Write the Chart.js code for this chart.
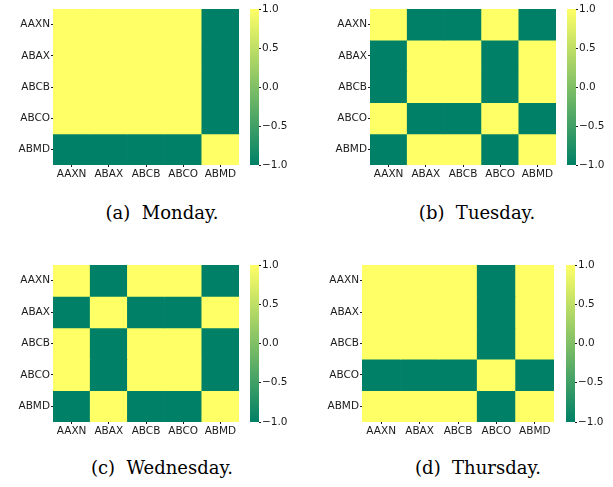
<!DOCTYPE html>
<html>
<head>
<meta charset="utf-8">
<script src="https://cdn.jsdelivr.net/npm/chart.js@4.4.1/dist/chart.umd.min.js"></script>
<style>
  body { margin: 0; background: #fff; width: 613px; height: 487px; overflow: hidden; position: relative; }
  canvas { position: absolute; }
  .cap { position: absolute; width: 240px; text-align: center; font-family: "DejaVu Serif", serif; font-size: 18px; color: #000; white-space: pre; }
</style>
</head>
<body>
<canvas id="hA" width="245" height="185" style="left:0px;top:0px"></canvas>
<canvas id="cA" width="50" height="185" style="left:245px;top:0px"></canvas>
<canvas id="hB" width="245" height="185" style="left:317px;top:0px"></canvas>
<canvas id="cB" width="50" height="185" style="left:562px;top:0px"></canvas>
<canvas id="hC" width="245" height="186" style="left:0px;top:256px"></canvas>
<canvas id="cC" width="50" height="186" style="left:245px;top:256px"></canvas>
<canvas id="hD" width="251" height="186" style="left:309px;top:256px"></canvas>
<canvas id="cD" width="50" height="186" style="left:561px;top:256px"></canvas>
<div class="cap" style="left:42px;top:202px">(a)  Monday.</div>
<div class="cap" style="left:357px;top:202px">(b)  Tuesday.</div>
<div class="cap" style="left:42px;top:457px">(c)  Wednesday.</div>
<div class="cap" style="left:358px;top:457px">(d)  Thursday.</div>
<script>
var stocks = ["AAXN", "ABAX", "ABCB", "ABCO", "ABMD"];

// correlation matrices, rows top to bottom
var monday = [
    [ 1,  1,  1,  1, -1],
    [ 1,  1,  1,  1, -1],
    [ 1,  1,  1,  1, -1],
    [ 1,  1,  1,  1, -1],
    [-1, -1, -1, -1,  1]
];
var tuesday = [
    [ 1, -1, -1,  1, -1],
    [-1,  1,  1, -1,  1],
    [-1,  1,  1, -1,  1],
    [ 1, -1, -1,  1, -1],
    [-1,  1,  1, -1,  1]
];
var wednesday = [
    [ 1, -1,  1,  1, -1],
    [-1,  1, -1, -1,  1],
    [ 1, -1,  1,  1, -1],
    [ 1, -1,  1,  1, -1],
    [-1,  1, -1, -1,  1]
];
var thursday = [
    [ 1,  1,  1, -1,  1],
    [ 1,  1,  1, -1,  1],
    [ 1,  1,  1, -1,  1],
    [-1, -1, -1,  1, -1],
    [ 1,  1,  1, -1,  1]
];
var colorbarTicks = [-1.0, -0.5, 0.0, 0.5, 1.0];

var tickFont = {family: "DejaVu Sans", size: 10.5};
var tickColor = "#1a1a1a";

// matplotlib "summer" colormap
function summer(v) {
    var t = (v + 1) / 2;
    return "rgb(" + Math.round(255 * t) + "," + Math.round(255 * (0.5 + t / 2)) + ",102)";
}

function heatmap(id, matrix, yWidth) {
    new Chart(document.getElementById(id), {
        type: "bar",
        data: {
            labels: stocks,
            datasets: matrix.map(row => ({
                data: row.map(() => 1),
                backgroundColor: row.map(summer),
                borderWidth: 0,
                barPercentage: 1,
                categoryPercentage: 1
            }))
        },
        options: {
            responsive: false,
            animation: false,
            layout: {padding: {top: 9, right: 6}},
            plugins: {legend: {display: false}, tooltip: {enabled: false}},
            scales: {
                x: {
                    stacked: true,
                    border: {display: false},
                    grid: {offset: false, drawOnChartArea: false, tickLength: 2, color: tickColor},
                    ticks: {font: tickFont, color: tickColor, padding: 1, maxRotation: 0, autoSkip: false},
                    afterFit: s => { s.height = 20; }
                },
                y: {
                    stacked: true,
                    reverse: true,
                    min: 0,
                    max: stocks.length,
                    border: {display: false},
                    grid: {drawOnChartArea: false, tickLength: 2, color: tickColor},
                    afterBuildTicks: s => { s.ticks = stocks.map((n, i) => ({value: i + 0.5})); },
                    ticks: {font: tickFont, color: tickColor, padding: 1, callback: (v, i) => stocks[i]},
                    afterFit: s => { s.width = yWidth; }
                }
            }
        }
    });
}

function colorbar(id, barWidth) {
    new Chart(document.getElementById(id), {
        type: "bar",
        data: {
            labels: [""],
            datasets: [{
                data: [[colorbarTicks[0], colorbarTicks[colorbarTicks.length - 1]]],
                borderWidth: 0,
                barPercentage: 1,
                categoryPercentage: 1,
                backgroundColor: c => {
                    var a = c.chart.chartArea;
                    if (!a) return summer(0);
                    var g = c.chart.ctx.createLinearGradient(0, a.bottom, 0, a.top);
                    g.addColorStop(0, summer(-1));
                    g.addColorStop(0.5, summer(0));
                    g.addColorStop(1, summer(1));
                    return g;
                }
            }]
        },
        options: {
            responsive: false,
            animation: false,
            layout: {padding: {left: 5, top: 9, bottom: 20}},
            plugins: {legend: {display: false}, tooltip: {enabled: false}},
            scales: {
                x: {display: false},
                y: {
                    position: "right",
                    min: -1,
                    max: 1,
                    border: {display: false},
                    grid: {drawOnChartArea: false, tickLength: 2, color: tickColor},
                    afterBuildTicks: s => { s.ticks = colorbarTicks.map(v => ({value: v})); },
                    ticks: {
                        font: tickFont, color: tickColor, padding: 1,
                        callback: v => (v < 0 ? "\u2212" : "") + Math.abs(v).toFixed(1)
                    },
                    afterFit: s => { s.width = 50 - 5 - barWidth; }
                }
            }
        }
    });
}

heatmap("hA", monday, 53);
colorbar("cA", 9);
heatmap("hB", tuesday, 53);
colorbar("cB", 9);
heatmap("hC", wednesday, 53);
colorbar("cC", 9);
heatmap("hD", thursday, 53);
colorbar("cD", 9);
</script>
</body>
</html>
